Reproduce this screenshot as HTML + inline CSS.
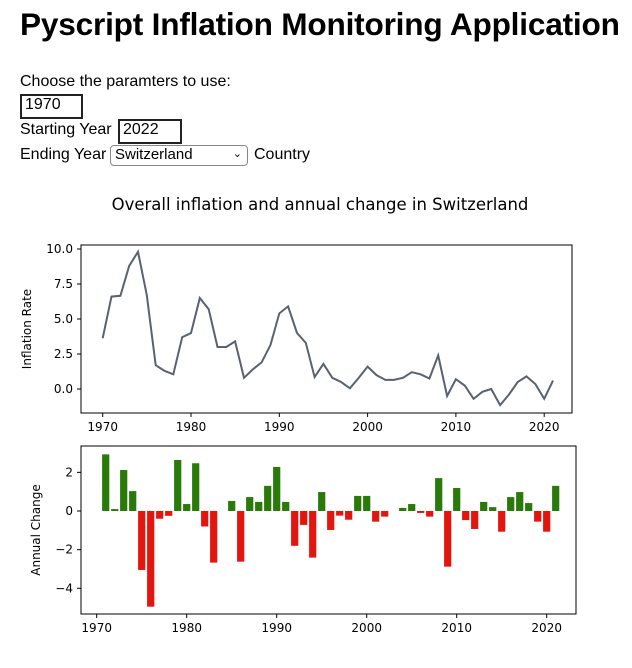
<!DOCTYPE html>
<html><head><meta charset="utf-8"><style>
body{margin:0;background:#fff;font-family:"Liberation Sans",sans-serif;color:#000;width:632px;height:668px;overflow:hidden;position:relative}
.abs{position:absolute}
h1{position:absolute;left:20px;top:6px;margin:0;font-size:31.6px;font-weight:bold;letter-spacing:-0.2px;white-space:nowrap}
.t{position:absolute;font-size:16px;white-space:nowrap}
.inp{position:absolute;border:2px solid #222;font-size:16px;padding:0 3px;box-sizing:border-box;background:#fff}
.sel{position:absolute;border:1px solid #888;border-radius:4px;font-size:15px;padding:0 4px;box-sizing:border-box;background:#fff}
svg text{font-family:"DejaVu Sans","Liberation Sans",sans-serif;font-size:12px}
</style></head><body>
<h1>Pyscript Inflation Monitoring Application</h1>
<div class="t" style="left:20px;top:73px">Choose the paramters to use:</div>
<div class="inp" style="left:20px;top:94px;width:63px;height:25px">1970</div>
<div class="t" style="left:20px;top:121px">Starting Year</div>
<div class="inp" style="left:118px;top:119px;width:64px;height:25px">2022</div>
<div class="t" style="left:20px;top:146px">Ending Year</div>
<div class="sel" style="left:110px;top:145px;width:138px;height:21px">Switzerland<span style="position:absolute;right:5px;top:1px;font-size:11px">&#8964;</span></div>
<div class="t" style="left:254px;top:146px">Country</div>
<svg class="abs" style="left:0;top:0" width="632" height="668" id="chart">
<text x="320" y="210" text-anchor="middle" style="font-size:16.5px">Overall inflation and annual change in Switzerland</text>
<g id="top"></g><g id="bot"></g>
</svg>
<script>
const years=[];for(let y=1970;y<=2021;y++)years.push(y);
const inflation=[3.63,6.6,6.66,8.8,9.8,6.7,1.7,1.3,1.05,3.7,4.0,6.5,5.7,3.0,3.0,3.4,0.8,1.4,1.9,3.15,5.4,5.9,4.0,3.3,0.85,1.8,0.8,0.5,0.05,0.8,1.6,1.0,0.65,0.65,0.8,1.2,1.05,0.75,2.4,-0.5,0.7,0.25,-0.7,-0.2,0.0,-1.15,-0.4,0.5,0.9,0.35,-0.7,0.6];
const changeYears=years.slice(1);
const changes=[2.93,0.1,2.12,1.03,-3.05,-4.95,-0.4,-0.25,2.64,0.36,2.47,-0.8,-2.67,0,0.52,-2.62,0.72,0.47,1.3,2.28,0.47,-1.8,-0.72,-2.41,0.98,-0.98,-0.24,-0.45,0.78,0.78,-0.55,-0.29,0,0.16,0.36,-0.1,-0.29,1.7,-2.88,1.19,-0.47,-0.93,0.47,0.2,-1.07,0.72,0.98,0.41,-0.55,-1.07,1.3];
const topYTicks=["10.0","7.5","5.0","2.5","0.0"];
const botYTicks=[2,0,-2,-4];
const xTicks=[1970,1980,1990,2000,2010,2020];
const NS="http://www.w3.org/2000/svg";
function mk(p,tag,at,txt){const e=document.createElementNS(NS,tag);for(const k in at)e.setAttribute(k,at[k]);if(txt!==undefined)e.textContent=txt;p.appendChild(e);return e;}
const T=document.getElementById('top');
const tx=y=>102.7+(y-1970)*8.83, ty=v=>389-v*14;
let d=years.map((y,i)=>(i?'L':'M')+tx(y).toFixed(1)+','+ty(inflation[i]).toFixed(1)).join('');
let ln=mk(T,'path',{d:d,fill:'none',stroke:'#5a6170','stroke-width':2});


let b1=mk(T,'rect',{x:81,y:245,width:491,height:168,fill:'none',stroke:'#000','stroke-width':1});


topYTicks.forEach(s=>{const v=parseFloat(s);mk(T,'line',{x1:77,x2:81,y1:ty(v),y2:ty(v),stroke:'#000'});
 const t=mk(T,'text',{x:73,y:ty(v)+4,'text-anchor':'end'},s);
 
 });
xTicks.forEach(y=>{mk(T,'line',{x1:tx(y),x2:tx(y),y1:413,y2:417,stroke:'#000'});
 const t=mk(T,'text',{x:tx(y),y:431,'text-anchor':'middle'},y);
 
 });
let yt=mk(T,'text',{x:0,y:0,transform:'translate(31,329) rotate(-90)','text-anchor':'middle'},'Inflation Rate');


const B=document.getElementById('bot');
const bx=y=>96.7+(y-1970)*9, by=v=>511+v*-19.33;
changeYears.forEach((y,i)=>{const v=changes[i];const y0=by(Math.max(v,0)),h=Math.abs(by(v)-by(0));
 const r=mk(B,'rect',{x:bx(y)-3.6,y:y0,width:7.2,height:h,fill:v>=0?'#2a7a0a':'#e3150f'});
 
 });
let b2=mk(B,'rect',{x:81,y:446,width:495,height:168,fill:'none',stroke:'#000','stroke-width':1});


botYTicks.forEach(v=>{mk(B,'line',{x1:77,x2:81,y1:by(v),y2:by(v),stroke:'#000'});
 const t=mk(B,'text',{x:73,y:by(v)+4,'text-anchor':'end'},v<0?'\u2212'+(-v):v);
 
 });
xTicks.forEach(y=>{mk(B,'line',{x1:bx(y),x2:bx(y),y1:614,y2:618,stroke:'#000'});
 const t=mk(B,'text',{x:bx(y),y:632,'text-anchor':'middle'},y);
 
 });
let yt2=mk(B,'text',{x:0,y:0,transform:'translate(40,530) rotate(-90)','text-anchor':'middle'},'Annual Change');


</script>
</body></html>
